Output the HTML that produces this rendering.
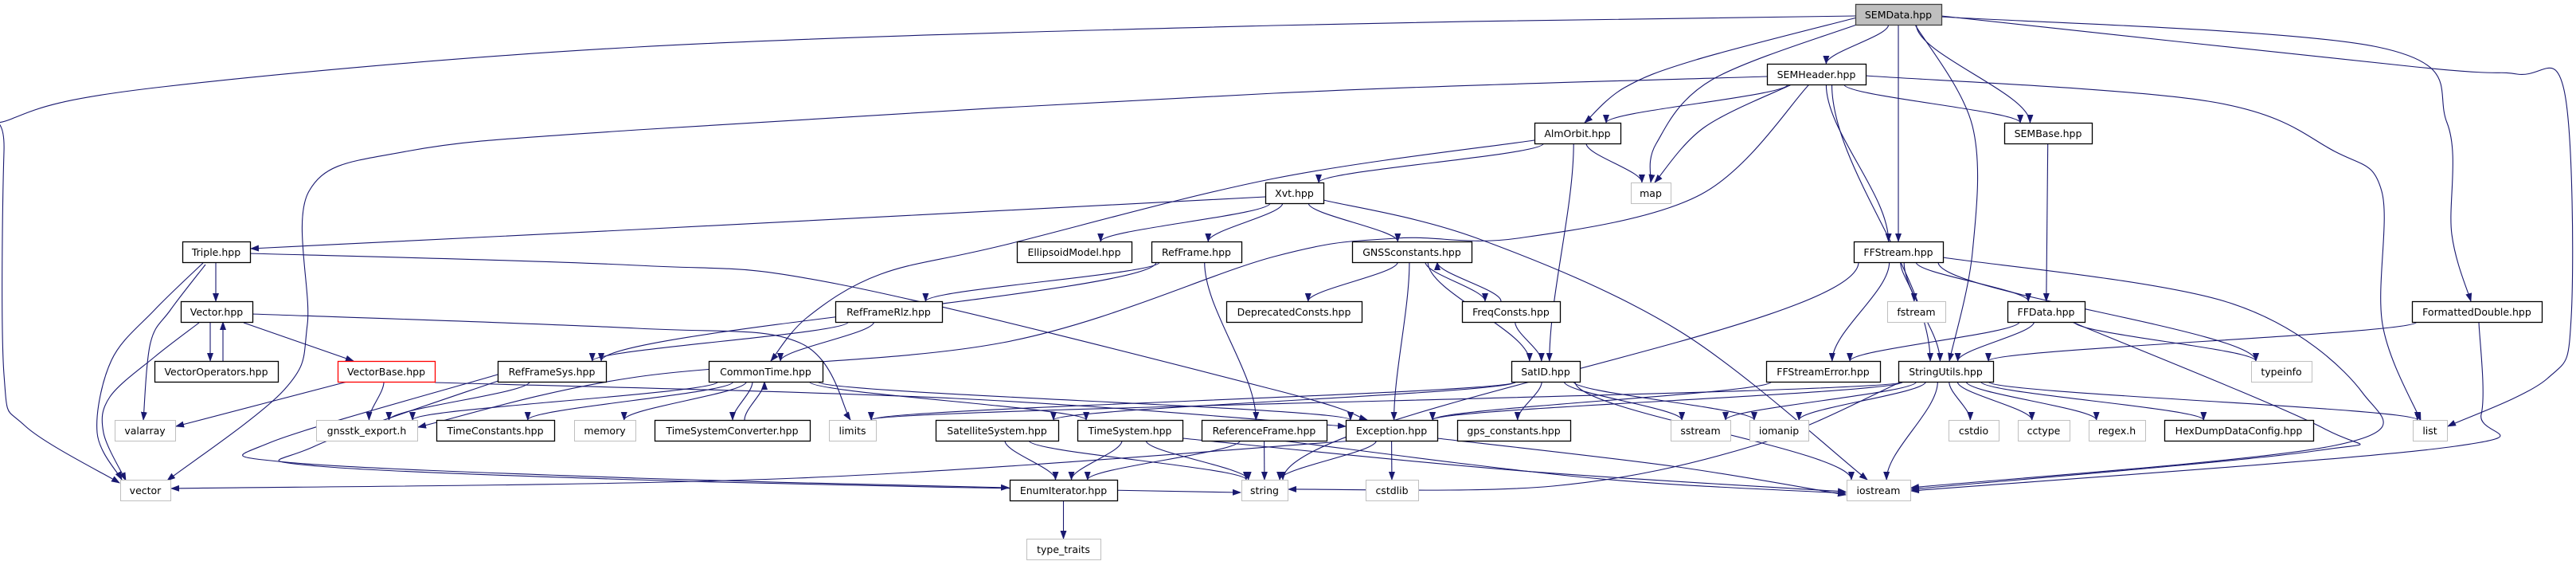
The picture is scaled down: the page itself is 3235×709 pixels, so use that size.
<!DOCTYPE html>
<html><head><meta charset="utf-8">
<style>
html,body{margin:0;padding:0;background:#fff;}
svg{display:block;}
text{font-family:"DejaVu Sans","Liberation Sans",sans-serif;font-size:12.5px;fill:#000;}
</style></head>
<body>
<svg id="g" width="3235" height="709" viewBox="0 0 3235 709" xmlns="http://www.w3.org/2000/svg">
<defs><marker id="a" markerUnits="userSpaceOnUse" markerWidth="11" markerHeight="8" refX="10" refY="4" orient="auto"><path d="M0,0 L11,4 L0,8 z" fill="#191970"/></marker></defs>
<g id="e"></g><g id="n"></g>
</svg>
<script>
var R=[18,93,167,242,316,391,466,540,615,689];
var N={
SEMData:[2330,2438,0,'SEMData.hpp','s'],
SEMHeader:[2219,2343,1,'SEMHeader.hpp'],
AlmOrbit:[1927,2035,2,'AlmOrbit.hpp'],
SEMBase:[2517,2627,2,'SEMBase.hpp'],
Xvt:[1589,1662,3,'Xvt.hpp'],
map:[2048,2098,3,'map','g'],
Triple:[229,314,4,'Triple.hpp'],
Ellipsoid:[1277,1421,4,'EllipsoidModel.hpp'],
RefFrame:[1446,1559,4,'RefFrame.hpp'],
GNSS:[1698,1848,4,'GNSSconstants.hpp'],
FFStream:[2328,2440,4,'FFStream.hpp'],
Vector:[227,317,5,'Vector.hpp'],
RefFrameRlz:[1049,1183,5,'RefFrameRlz.hpp'],
Deprecated:[1540,1710,5,'DeprecatedConsts.hpp'],
FreqConsts:[1836,1959,5,'FreqConsts.hpp'],
fstream:[2370,2443,5,'fstream','g'],
FFData:[2521,2618,5,'FFData.hpp'],
FormattedDouble:[3029,3192,5,'FormattedDouble.hpp'],
VectorOps:[194,349,6,'VectorOperators.hpp'],
VectorBase:[424,546,6,'VectorBase.hpp','r'],
RefFrameSys:[625,761,6,'RefFrameSys.hpp'],
CommonTime:[890,1033,6,'CommonTime.hpp'],
SatID:[1898,1984,6,'SatID.hpp'],
FFStreamError:[2218,2361,6,'FFStreamError.hpp'],
StringUtils:[2384,2503,6,'StringUtils.hpp'],
typeinfo:[2827,2903,6,'typeinfo','g'],
valarray:[144,220,7,'valarray','g'],
gnsstk:[397,524,7,'gnsstk_export.h','g'],
TimeConstants:[548,696,7,'TimeConstants.hpp'],
memory:[721,798,7,'memory','g'],
TSConverter:[822,1017,7,'TimeSystemConverter.hpp'],
limits:[1041,1100,7,'limits','g'],
SatSys:[1175,1329,7,'SatelliteSystem.hpp'],
TimeSystem:[1353,1485,7,'TimeSystem.hpp'],
ReferenceFrame:[1509,1666,7,'ReferenceFrame.hpp'],
Exception:[1690,1805,7,'Exception.hpp'],
gps:[1830,1972,7,'gps_constants.hpp'],
sstream:[2098,2173,7,'sstream','g'],
iomanip:[2197,2271,7,'iomanip','g'],
cstdio:[2447,2510,7,'cstdio','g'],
cctype:[2534,2599,7,'cctype','g'],
regex:[2623,2694,7,'regex.h','g'],
HexDump:[2718,2905,7,'HexDumpDataConfig.hpp'],
list:[3030,3073,7,'list','g'],
vector:[151,214,8,'vector','g'],
EnumIt:[1268,1403,8,'EnumIterator.hpp'],
string:[1559,1617,8,'string','g'],
cstdlib:[1715,1781,8,'cstdlib','g'],
iostream:[2319,2399,8,'iostream','g'],
type_traits:[1289,1382,9,'type_traits','g']
};
var W={
'SEMData>vector':[[2330,20],[1600,32],[800,59],[204,109],[15,149],[5,190],[5,470],[31,534],[150,606]],
'SEMHeader>vector':[[2219,96],[1600,117],[800,163],[510,190],[388,240],[386,407],[357,489],[210,603]],
'SEMData>list':[[2438,20],[3034,84],[3161,93],[3220,113],[3229,398],[3199,475],[3074,535]],
'SEMHeader>list':[[2343,95],[2773,127],[2932,190],[2991,240],[2992,407],[3040,528]],
'SEMData>FormattedDouble':[[2438,21],[2986,59],[3073,154],[3079,294],[3103,378]],
'SEMData>StringUtils':[[2405,31],[2477,158],[2477,317],[2448,453]],
'FFStream>iostream':[[2440,323],[2800,380],[2967,493],[2932,559],[2400,612]],
'FFData>iostream':[[2602,404],[2919,538],[2906,566],[2400,614]],
'FormattedDouble>iostream':[[3113,404],[3116,520],[3076,561],[2400,616]],
'SEMHeader>gnsstk':[[2272,106],[2136,244],[1906,299],[1753,299],[1600,322],[1259,430],[800,473],[525,536]],
'AlmOrbit>CommonTime':[[1927,176],[1600,224],[1259,308],[1106,344],[1014,398],[968,453]],
'Xvt>Triple':[[1589,247],[800,288],[315,312]],
'Xvt>iostream':[[1662,251],[1855,299],[2110,416],[2345,602]],
'Triple>Exception':[[314,318],[800,333],[1055,357],[1600,489],[1717,527]],
'Vector>limits':[[317,394],[800,412],[1004,430],[1068,527]],
'SEMData>map':[[2340,28],[2150,100],[2080,180],[2073,229]],
'SEMHeader>map':[[2250,106],[2140,160],[2078,229]],
'SEMData>AlmOrbit':[[2332,22],[2130,75],[2040,110],[1990,154]],
'Exception>vector':[[1700,553],[1000,600],[215,613]],
'RefFrameSys>EnumIt':[[625,470],[340,555],[360,580],[800,600],[1267,612]],
'RefFrameSys>string':[[640,473],[395,560],[400,585],[900,605],[1558,618]],
'TimeSystem>iostream':[[1485,550],[1900,590],[2318,617]],
'ReferenceFrame>iostream':[[1610,553],[2000,600],[2318,619]],
'Exception>iostream':[[1805,550],[2100,585],[2318,621]],
'StringUtils>string':[[2390,478],[2200,560],[1950,610],[1618,614]],
'VectorBase>Exception':[[546,480],[1200,500],[1690,535]],
'Triple>vector':[[255,330],[194,389],[140,452],[122,543],[153,602]],
'Triple>valarray':[[258,332],[214,389],[189,430],[180,527]],
'Vector>vector':[[250,405],[194,448],[138,498],[130,543],[158,603]],
'VectorBase>valarray':[[436,479],[221,535]],
'Vector>VectorBase':[[306,405],[444,453]]
};
var E='SEMData>vector SEMData>map SEMData>AlmOrbit SEMData>SEMHeader SEMData>FFStream SEMData>SEMBase SEMData>StringUtils SEMData>FormattedDouble SEMData>list SEMHeader>vector SEMHeader>AlmOrbit SEMHeader>map SEMHeader>gnsstk SEMHeader>SEMBase SEMHeader>FFStream SEMHeader>StringUtils SEMHeader>list AlmOrbit>Xvt AlmOrbit>map AlmOrbit>SatID AlmOrbit>CommonTime Xvt>Triple Xvt>Ellipsoid Xvt>RefFrame Xvt>GNSS Xvt>iostream Triple>Vector Triple>valarray Triple>vector Triple>Exception Vector>vector Vector>VectorOps VectorOps>Vector Vector>VectorBase Vector>limits VectorBase>valarray VectorBase>gnsstk VectorBase>Exception RefFrame>RefFrameRlz RefFrame>RefFrameSys RefFrame>ReferenceFrame RefFrameRlz>CommonTime RefFrameRlz>RefFrameSys RefFrameSys>gnsstk RefFrameSys>EnumIt RefFrameSys>string GNSS>Deprecated GNSS>FreqConsts FreqConsts>GNSS GNSS>SatID GNSS>Exception FreqConsts>SatID CommonTime>gnsstk CommonTime>TimeConstants CommonTime>memory CommonTime>TSConverter TSConverter>CommonTime CommonTime>TimeSystem CommonTime>Exception SatID>limits SatID>SatSys SatID>gps SatID>sstream SatID>iomanip SatID>iostream SatSys>EnumIt SatSys>string TimeSystem>EnumIt TimeSystem>string TimeSystem>iostream ReferenceFrame>EnumIt ReferenceFrame>string ReferenceFrame>iostream Exception>string Exception>cstdlib Exception>iostream Exception>vector EnumIt>type_traits SEMBase>FFData FFStream>FFStreamError FFStream>StringUtils FFStream>fstream FFStream>FFData FFStream>typeinfo FFStream>iostream FFStream>string FFData>FFStreamError FFData>StringUtils FFData>typeinfo FFData>iostream FFStreamError>Exception StringUtils>Exception StringUtils>string StringUtils>iostream StringUtils>cstdio StringUtils>cctype StringUtils>regex StringUtils>HexDump StringUtils>list StringUtils>sstream StringUtils>iomanip StringUtils>limits FormattedDouble>StringUtils FormattedDouble>iostream'.split(' ');
function spline(p){var d='M'+p[0][0]+','+p[0][1];for(var i=0;i<p.length-1;i++){var p0=p[i-1]||p[i],p1=p[i],p2=p[i+1],p3=p[i+2]||p2;
var c1=[p1[0]+(p2[0]-p0[0])/6,p1[1]+(p2[1]-p0[1])/6],c2=[p2[0]-(p3[0]-p1[0])/6,p2[1]-(p3[1]-p1[1])/6];
d+=' C'+c1[0].toFixed(1)+','+c1[1].toFixed(1)+' '+c2[0].toFixed(1)+','+c2[1].toFixed(1)+' '+p2[0]+','+p2[1];}return d;}
function cl(v,a,b){return Math.max(a,Math.min(b,v));}
var eg=document.getElementById('e'),ng=document.getElementById('n'),s='';
E.forEach(function(k){var ab=k.split('>'),S=N[ab[0]],T=N[ab[1]],d;
if(W[k]){d=spline(W[k]);}else{
var sc=(S[0]+S[1])/2,tc=(T[0]+T[1])/2,sy,ey,sx,ex;
if(T[2]>S[2]){sy=R[S[2]]+13;ey=R[T[2]]-13;}else{sy=R[S[2]]-13;ey=R[T[2]]+13;}
sx=cl(sc+(tc-sc)*0.12,S[0]+6,S[1]-6);ex=cl(tc+(sc-tc)*0.12,T[0]+6,T[1]-6);
if(k=='VectorOps>Vector'){sx=280;ex=280;}if(k=='Vector>VectorOps'){sx=264;ex=264;}
if(k=='Triple>Vector'){sx=271;ex=271;}
if(k=='FreqConsts>GNSS'){sx=1885;ex=1805;}if(k=='TSConverter>CommonTime'){sx=935;ex=960;}
if(k=='CommonTime>TSConverter'){sx=945;ex=920;}if(k=='GNSS>FreqConsts'){sx=1790;ex=1865;}
var dy=ey-sy;d='M'+sx+','+sy+' C'+sx+','+(sy+dy*0.3)+' '+ex+','+(ey-dy*0.3)+' '+ex+','+ey;}
s+='<path d="'+d+'" fill="none" stroke="#191970" stroke-width="1.1" marker-end="url(#a)"/>';});
eg.innerHTML=s;s='';
for(var k in N){var n=N[k],y=R[n[2]]-13,st=n[4]=='g'?'#bfbfbf':(n[4]=='r'?'#ff0000':'#000'),f=n[4]=='s'?'#bfbfbf':'#fff';
s+='<rect x="'+n[0]+'.5" y="'+y+'.5" width="'+(n[1]-n[0])+'" height="26" fill="'+f+'" stroke="'+(n[4]=='s'?'#404040':st)+'" stroke-width="'+(n[4]=='g'?1:1.3)+'"/>';
s+='<text x="'+((n[0]+n[1])/2)+'" y="'+(R[n[2]]+5)+'" text-anchor="middle">'+n[3]+'</text>';}
ng.innerHTML=s;
</script>
</body></html>
